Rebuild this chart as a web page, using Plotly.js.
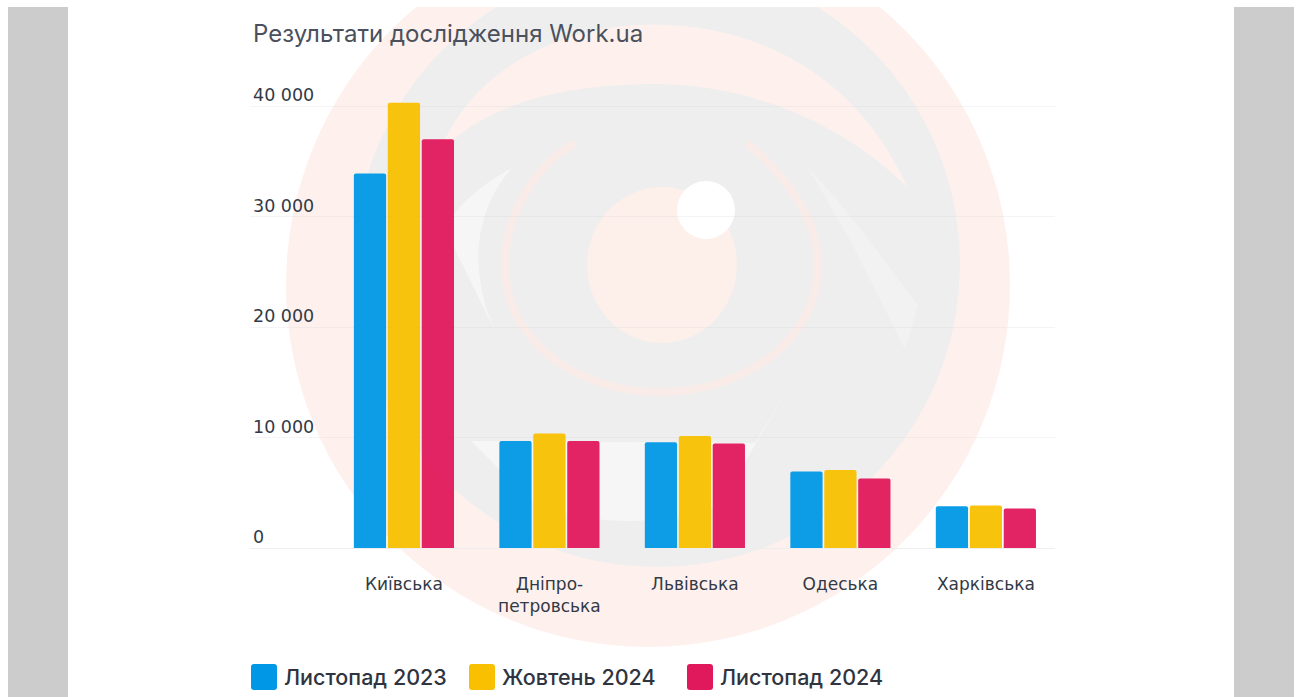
<!DOCTYPE html>
<html>
<head>
<meta charset="utf-8">
<script src="https://cdn.plot.ly/plotly-3.0.1.min.js"></script>
<style>html,body{margin:0;padding:0;background:#fff}#chart{width:1300px;height:697px}</style>
</head>
<body>
<div id="chart"></div>
<script>
const regions = ['Київська', 'Дніпро-<br>петровська', 'Львівська', 'Одеська', 'Харківська'];
const seriesNames = ['Листопад 2023', 'Жовтень 2024', 'Листопад 2024'];
const nov2023 = [33900, 9680, 9560, 6930, 3770];
const oct2024 = [40300, 10360, 10130, 7050, 3850];
const nov2024 = [37000, 9680, 9450, 6290, 3580];
const seriesColors = ['#0098e6', '#f8c000', '#e0185c'];
const yTicks = [0, 10000, 20000, 30000, 40000];
const yTickLabels = ['0', '10 000', '20 000', '30 000', '40 000'];

const FONT = 'Inter, sans-serif';
const WIDE = '"DejaVu Sans", sans-serif';
const INK = '#333945';
const L = 250, T = 70, W = 805, H = 478;
const X = x => (x - L) / W;
const Y = y => (T + H - y) / H;
const P = s => s.replace(/(-?[\d.]+),(-?[\d.]+)/g, (m, a, b) => X(+a) + ' ' + Y(+b));

function rect(x0, y0, x1, y1, fill) {
  return {type: 'rect', xref: 'paper', yref: 'paper', layer: 'below', x0: X(x0), x1: X(x1), y0: Y(y0), y1: Y(y1),
          fillcolor: fill, line: {width: 0}};
}
function ell(cx, cy, rx, ry, fill) {
  return {type: 'circle', xref: 'paper', yref: 'paper', layer: 'below', x0: X(cx - rx), x1: X(cx + rx), y0: Y(cy - ry), y1: Y(cy + ry),
          fillcolor: fill, line: {width: 0}};
}
function path(d, fill, stroke, w) {
  return {type: 'path', xref: 'paper', yref: 'paper', layer: 'below', path: P(d),
          fillcolor: fill || 'rgba(0,0,0,0)', line: {width: w || 0, color: stroke || 'rgba(0,0,0,0)'}};
}
const PINK = '#fef1ed', GREY = '#eeeeee', PALE = '#f6f6f6';
const shapes = [
  ell(648, 285, 362, 362, PINK),
  ell(657, 264, 303, 303, GREY),
  path('M440,152 C470,70 560,28 640,25 C760,20 860,80 907,187 C850,130 760,85 658,84 C570,84 490,100 440,152 Z', PINK),
  path('M512,168 C480,185 460,205 444,227 L498,337 C470,280 470,215 512,168 Z', PALE),
  path('M471,441 L755,443 L790,385 L720,505 Q620,540 530,500 Z', PALE),
  path('M808,168 C850,210 890,270 918,305 L905,349 L850,240 Z', '#f2f2f2'),
  path('M747,143 C790,180 818,220 818,265 C818,340 745,392 660,392 C575,392 505,340 505,265 C505,215 535,165 575,143', null, '#f9ece8', 8),
  ell(662, 265, 75, 78, '#fdefea'),
  ell(706, 210, 29, 29, '#ffffff'),
  rect(0, 0, 1300, 7, '#ffffff'),
  rect(8, 7, 68, 697, '#cccccc'),
  rect(1234, 7, 1294, 697, '#cccccc')
];

const values = [nov2023, oct2024, nov2024];
const traces = seriesNames.map((name, i) => ({
  type: 'bar', name: name, x: regions, y: values[i],
  marker: {color: seriesColors[i], opacity: 0.95, line: {width: 0}},
  hoverinfo: 'x+y+name'
}));

const layout = {
  width: 1300, height: 697,
  paper_bgcolor: '#ffffff', plot_bgcolor: 'rgba(0,0,0,0)',
  margin: {l: L, t: T, r: 1300 - L - W, b: 697 - T - H, pad: 0, autoexpand: false},
  barmode: 'group', bargap: 0.3, bargroupgap: 0.05, barcornerradius: 2,
  font: {family: FONT, color: INK},
  title: {text: 'Результати дослідження Work.ua', xref: 'container', yref: 'container',
          x: 253 / 1300, xanchor: 'left', y: 1 - 34 / 697, yanchor: 'middle',
          font: {family: FONT, size: 24, color: '#4a505c'}},
  xaxis: {type: 'category', range: [-1.058, 4.475], showgrid: false, zeroline: false, showline: false,
          ticks: '', ticklabelstandoff: 24, tickfont: {family: WIDE, size: 17, color: INK}, fixedrange: true},
  yaxis: {range: [0, 43258], tickvals: yTicks, ticktext: yTickLabels, showgrid: true,
          gridcolor: 'rgba(215,215,215,0.28)', gridwidth: 1, zeroline: true, zerolinecolor: '#eeeeee', zerolinewidth: 1,
          showline: false, ticks: '', ticklabelposition: 'inside', ticklabelshift: -11,
          tickfont: {family: WIDE, size: 17.5, color: INK}, fixedrange: true},
  legend: {orientation: 'h', x: X(244), xanchor: 'left', y: Y(677), yanchor: 'middle',
           entrywidth: 173, entrywidthmode: 'pixels', bgcolor: 'rgba(0,0,0,0)',
           font: {family: FONT, size: 21.5, weight: 500, color: '#2f3440'}},
  shapes: shapes
};

const gd = document.getElementById('chart');
function bigSwatches() {
  gd.querySelectorAll('g.legendpoints path').forEach(p => {
    p.setAttribute('d', 'M10,13H-10Q-13,13 -13,10V-10Q-13,-13 -10,-13H10Q13,-13 13,-10V10Q13,13 10,13Z');
  });
}
Plotly.newPlot(gd, traces, layout, {displayModeBar: false}).then(() => {
  bigSwatches();
  gd.on('plotly_afterplot', bigSwatches);
  setTimeout(bigSwatches, 100);
});
</script>
</body>
</html>
